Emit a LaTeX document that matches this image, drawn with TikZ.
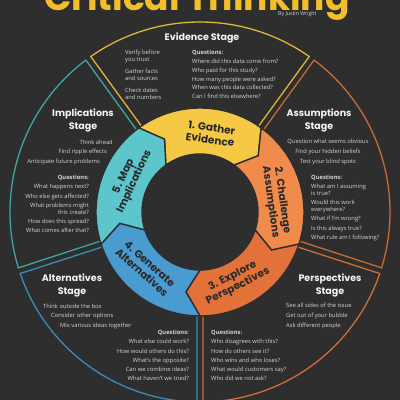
\documentclass[tikz,border=0pt]{standalone}
\usepackage{fontspec}
\setmainfont{Open Sans}
\newfontfamily\headfont{Poppins}
\usetikzlibrary{calc}
\definecolor{bg}{HTML}{2E2E2E}
\definecolor{txt}{HTML}{D6D6D6}
\definecolor{ttl}{HTML}{F4F4F4}
\definecolor{dark}{HTML}{2A2A2A}
\definecolor{gold}{HTML}{F2BF2A}
\definecolor{cA}{HTML}{F6C944}
\definecolor{cB}{HTML}{F08B4C}
\definecolor{cC}{HTML}{E3713A}
\definecolor{cD}{HTML}{4A9BD0}
\definecolor{cE}{HTML}{5CC6CC}
\definecolor{oA}{HTML}{E2B43A}
\definecolor{oB}{HTML}{C96B36}
\definecolor{oC}{HTML}{D06E38}
\definecolor{oD}{HTML}{3A8CB8}
\definecolor{oE}{HTML}{41A5A3}
\begin{document}
\begin{tikzpicture}[x=1pt,y=1pt,
  body/.style={font=\fontsize{5.8}{6.8}\selectfont, text=txt, inner sep=0pt},
  stitle/.style={font=\headfont\bfseries\fontsize{9.5}{12.5}\selectfont, text=ttl, align=center, inner sep=0pt},
  ringtxt/.style={font=\headfont\bfseries\fontsize{10.5}{11.8}\selectfont, text=dark, align=center, inner sep=0pt},
  sector/.style={line width=1.3pt}]
\useasboundingbox (0,0) rectangle (400,400);
\clip (0,0) rectangle (400,400);
\fill[bg] (0,0) rectangle (400,400);

% title
\node[font=\headfont\bfseries\fontsize{36}{36}\selectfont, text=gold, anchor=base, inner sep=0pt] (title) at (197,389) {Critical Thinking};
\node[font=\fontsize{5.2}{6}\selectfont, text=txt, anchor=west, inner sep=0pt] (author) at (278,386) {By Justin Wright};

% outer sectors
\begin{scope}[shift={(200,188)}]
  \coordinate (C) at (0,0);
  \foreach \a/\col in {90/oA, 18/oB, -54/oC, -126/oD, -198/oE}{
    \draw[sector, \col] (\a+36-1.7:104) -- (\a+36-0.9:190)
      arc[start angle=\a+36-0.9, end angle=\a-36+0.9, radius=190]
      -- (\a-36+1.7:104);
  }
  % inner ring segments
  \foreach \a/\col in {90/cA, 18/cB, -54/cC, -126/cD, -198/cE}{
    \filldraw[fill=\col, draw=bg, line width=1.4pt, line join=miter]
      (\a+36:104) arc[start angle=\a+36, end angle=\a-36, radius=104]
      -- (\a-46:81) -- (\a-36:58)
      arc[start angle=\a-36, end angle=\a+36, radius=58]
      -- (\a+26:81) -- cycle;
  }
  \node[ringtxt, rotate=-8] (r1) at (82:79) {1. Gather\\Evidence};
  \node[ringtxt, rotate=-82] (r2) at (8:77) {2. Challenge\\Assumptions};
  \node[ringtxt, rotate=27] (r3) at (-63:78) {3. Explore\\Perspectives};
  \node[ringtxt, rotate=-42] (r4) at (-134:78) {4. Generate\\Alternatives};
  \node[ringtxt, rotate=65] (r5) at (155:78) {5. Map\\Implications};
\end{scope}

% Evidence
\node[stitle] (evt) at (202,362) {Evidence Stage};
\node[body, anchor=north west, align=left] (evl) at (125,350) {Verify before\\you trust\\[5.3pt]Gather facts\\and sources\\[5.3pt]Check dates\\and numbers};
\node[body, anchor=north west, align=left] (evq) at (192,350) {\textbf{Questions:}\\[2pt]Where did this data come from?\\[2pt]Who paid for this study?\\[2pt]How many people were asked?\\[2pt]When was this data collected?\\[2pt]Can I find this elsewhere?};

% Implications
\node[stitle] (imt) at (83,279.5) {Implications\\Stage};
\node[body, anchor=east] (im1) at (113,258) {Think ahead};
\node[body, anchor=east] (im2) at (107,248) {Find ripple effects};
\node[body, anchor=east] (im3) at (100,238) {Anticipate future problems};
\node[body, anchor=north east, align=right] (imq) at (89,225) {\textbf{Questions:}\\[2.4pt]What happens next?\\[2.4pt]Who else gets affected?\\[2.4pt]What problems might\\this create?\\[2.4pt]How does this spread?\\[2.4pt]What comes after that?};

% Assumptions
\node[stitle] (ast) at (319,279.5) {Assumptions\\Stage};
\node[body, anchor=north, align=center] (asl) at (328,261) {Question what seems obvious\\[3.2pt]Find your hidden beliefs\\[3.2pt]Test your blind spots};
\node[body, anchor=north west, align=left] (asq) at (311,225) {\textbf{Questions:}\\[2.4pt]What am I assuming\\is true?\\[2.4pt]Would this work\\everywhere?\\[2.4pt]What if I'm wrong?\\[2.4pt]Is this always true?\\[2.4pt]What rule am I following?};

% Alternatives
\node[stitle] (alt) at (72,114.5) {Alternatives\\Stage};
\node[body, anchor=west] (al1) at (43,94) {Think outside the box};
\node[body, anchor=west] (al2) at (51,84) {Consider other options};
\node[body, anchor=west] (al3) at (60,74) {Mix various ideas together};
\node[body, anchor=north east, align=right] (alq) at (189,70) {\textbf{Questions:}\\[2.4pt]What else could work?\\[2.4pt]How would others do this?\\[2.4pt]What's the opposite?\\[2.4pt]Can we combine ideas?\\[2.4pt]What haven't we tried?};

% Perspectives
\node[stitle] (pet) at (330,114.5) {Perspectives\\Stage};
\node[body, anchor=north west, align=left] (pel) at (286,97) {See all sides of the issue\\[3.2pt]Get out of your bubble\\[3.2pt]Ask different people};
\node[body, anchor=north west, align=left] (peq) at (211,70) {\textbf{Questions:}\\[2.4pt]Who disagrees with this?\\[2.4pt]How do others see it?\\[2.4pt]Who wins and who loses?\\[2.4pt]What would customers say?\\[2.4pt]Who did we not ask?};
\end{tikzpicture}
\end{document}
